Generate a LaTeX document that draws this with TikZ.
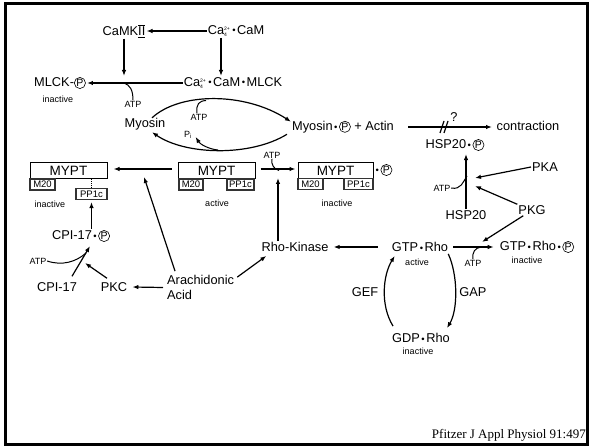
\documentclass[tikz,border=0pt]{standalone}
\usepackage{fontspec}
\setmainfont{Liberation Sans}
\newfontfamily\timesf{Liberation Serif}
\usetikzlibrary{arrows.meta,calc}
\newcommand\cpP{\tikz[baseline=(cpn.base)]\node[draw,circle,inner sep=0.4pt,line width=0.6pt,font=\fontsize{10.5}{10.5}\selectfont](cpn){P};}
\newcommand\bd{\hspace{1.5pt}\raisebox{0.4pt}{\fontsize{9.5}{9.5}\selectfont •}\hspace{1.5pt}}
\newcommand\caf{Ca\raisebox{-2.5pt}{\fontsize{5}{5.5}\selectfont\shortstack[l]{2+\\4}}\hspace{1pt}}
\tikzset{
 lbl/.style={font=\fontsize{12.8}{15}\selectfont, inner sep=1pt},
 sm/.style={font=\fontsize{9}{10}\selectfont, inner sep=0.5pt},
 arr/.style={line width=1.2pt, -{Latex[length=6pt,width=4.5pt]}},
 ln/.style={line width=1.2pt},
 hook/.style={line width=1pt},
 mbox/.style={draw, line width=1pt, minimum width=77pt, minimum height=16pt, inner sep=0pt, font=\fontsize{13.5}{14}\selectfont},
 sbox/.style={draw=black!80, line width=1.1pt, minimum height=11pt, inner sep=0pt, font=\fontsize{9.5}{10}\selectfont}
}
\begin{document}
\begin{tikzpicture}[x=1pt,y=-1pt]
\useasboundingbox (0,0) rectangle (589,446);
\draw[line width=3pt] (5,3.5) rectangle (587.5,444.5);
% nodes
\node[lbl] (camk) at (124,31) {CaMK$\overline{\underline{\mbox{II}}}$};
\node[lbl] (cacam) at (236,31) {\caf\bd CaM};
\node[lbl] (mlckp) at (60,83) {MLCK-\cpP};
\node[sm] (inact1) at (58,99) {inactive};
\node[lbl] (ccm) at (233,83) {\caf\bd CaM\bd MLCK};
\node[sm] (atp1) at (133,104) {ATP};
\node[lbl] (myosin) at (145,124) {Myosin};
\node[lbl] (myop) at (343,127) {Myosin\bd\cpP\ + Actin};
\node[sm] (atp2) at (199,117) {ATP};
\node[sm] (pi) at (188,135) {P\textsubscript{i}};
\node[lbl] (contr) at (528,126) {contraction};
\node[lbl] (q) at (454,117) {?};
\node[lbl] (hsp20p) at (455,145) {HSP20\bd\cpP};
% MYPT boxes
\node[mbox] (m1) at (68.5,171) {MYPT};
\node[sbox, minimum width=25pt] (m1a) at (42.5,184.5) {M20};
\node[sbox, minimum width=31pt] (m1b) at (91.5,194) {PP1c};
\node[sm] (in2) at (50,204) {inactive};
\node[mbox] (m2) at (216.5,171) {MYPT};
\node[sbox, minimum width=24pt] (m2a) at (191,184.5) {M20};
\node[sbox, minimum width=27pt] (m2b) at (240.5,184.5) {PP1c};
\node[sm] (act2) at (217,203) {active};
\node[mbox, minimum width=75pt] (m3) at (335.5,170.5) {MYPT};
\node[sbox, minimum width=25pt] (m3a) at (310.5,184) {M20};
\node[sbox, minimum width=29pt] (m3b) at (358.5,184) {PP1c};
\node[lbl, anchor=west, inner sep=0pt] (m3p) at (374,170) {\bd\cpP};
\node[sm] (in3) at (337,203) {inactive};
\node[sm] (atp3) at (272,155) {ATP};
\node[lbl] (rhok) at (295,247) {Rho-Kinase};
\node[lbl, align=left, anchor=west] (arach) at (166,287.5) {Arachidonic\\Acid};
\node[lbl] (pkc) at (114,287) {PKC};
\node[lbl] (cpi) at (57,287) {CPI-17};
\node[lbl] (cpip) at (81,236) {CPI-17\bd\cpP};
\node[sm] (atp4) at (38,261) {ATP};
\node[lbl] (hsp20) at (466,215) {HSP20};
\node[sm] (atp5) at (442,188) {ATP};
\node[lbl] (pka) at (545,167) {PKA};
\node[lbl] (pkg) at (532,210) {PKG};
\node[lbl] (gtp) at (420,247) {GTP\bd Rho};
\node[sm] (act5) at (417,262) {active};
\node[lbl] (gtpp) at (537,247) {GTP\bd Rho\bd\cpP};
\node[sm] (in5) at (527,260) {inactive};
\node[sm] (atp6) at (473,263) {ATP};
\node[lbl] (gef) at (365,292) {GEF};
\node[lbl] (gap) at (473,292) {GAP};
\node[lbl] (gdp) at (421,338) {GDP\bd Rho};
\node[sm] (in6) at (418,351) {inactive};
\node[font=\timesf\fontsize{13}{14}\selectfont, anchor=base east, inner sep=0pt] (cite) at (586,438) {Pfitzer J Appl Physiol 91:497};
% coordinates
\coordinate (k1) at (124,76);
\coordinate (k2) at (221,76);
\coordinate (h1) at (124,83);
\coordinate (top2) at (206,100.5);
\coordinate (bot2) at (218,150);
\coordinate (c1) at (408,127);
\coordinate (c2) at (492,127);
\coordinate (h3) at (279,170.5);
\coordinate (r1) at (278,178);
\coordinate (ar1) at (144,177);
\coordinate (cr) at (85,263);
\coordinate (cj) at (86,253);
\coordinate (j1) at (475,178);
\coordinate (j2) at (475,186);
\coordinate (j3) at (482,242);
\coordinate (h5) at (467,176);
\coordinate (h6) at (481,247);
% connectors
\draw[arr] (cacam.west) -- (camk.east);
\draw[arr] (camk.south) -- (k1);
\draw[arr] (cacam.south -| k2) -- (k2);
\draw[arr] (ccm.west) -- (mlckp.east);
\draw[hook] (atp1.north) .. controls (133,90) and (130,85) .. (h1);
\draw[arr] ($(myosin.north)+(7,1)$) .. controls (180,92) and (245,92) .. ($(myop.north west)+(0,2)$);
\draw[hook] ($(atp2.north)+(-2,0)$) .. controls (196,104) and (199,101) .. (top2);
\draw[arr] ($(myop.south west)+(-4,0)$) .. controls (250,157) and (185,155) .. ($(myosin.south)+(7,1)$);
\draw[arr, line width=1pt] (bot2) .. controls (208,149) and (200,144) .. ($(pi.east)+(3,2)$);
\draw[arr] (c1) -- (c2);
\draw[ln] (440,133) -- (444,121);
\draw[ln] (444,133) -- (448,121);
\draw[densely dotted, line width=0.8pt] (m1.south -| m1b) -- (m1b.north);
\draw[arr] ($(m2.west)+(-6,-2)$) -- ($(m1.east)+(6,-2)$);
\draw[arr] ($(m2.east)+(5,-2)$) -- ($(m3.west)+(-2,-1.5)$);
\draw[hook] (atp3.south) .. controls (271,165) and (274,169) .. (h3);
\draw[arr] (rhok.north -| r1) -- (r1);
\draw[arr] ($(arach.north west)+(9,-3)$) -- (ar1);
\draw[arr] ($(arach.north east)+(2,3)$) -- ($(rhok.south west)+(6,3)$);
\draw[arr] ($(arach.west)+(-3,0)$) -- ($(pkc.east)+(4,0)$);
\draw[arr] ($(pkc.north)+(-7,-3)$) -- (cr);
\draw[arr] ($(cpi.north)+(15,-5)$) -- ($(cpip.south)+(9,3)$);
\draw[hook] (atp4.east) .. controls (62,266) and (76,262) .. (cj);
\draw[arr] (cpip.north -| m1b) -- ($(m1b.south)+(0,2)$);
\draw[arr] (hsp20.north) -- ($(hsp20.north |- hsp20p.south)+(0,2)$);
\draw[arr] (pka.west) -- (j1);
\draw[arr] (pkg.north west) -- (j2);
\draw[hook] (atp5.east) .. controls (461,190) and (463,182) .. (h5);
\draw[arr] ($(pkg.south west)+(6,0)$) -- (j3);
\draw[arr] ($(gtp.west)+(-13,0)$) -- ($(rhok.east)+(4,0)$);
\draw[arr] ($(gtp.east)+(4,0)$) -- ($(gtpp.west)+(-5,0)$);
\draw[hook] (atp6.north) .. controls (472,252) and (475,248) .. (h6);
\draw[arr] ($(gdp.north west)+(2,-6)$) .. controls (380,305) and (383,275) .. ($(gtp.south west)+(4,3)$);
\draw[arr] ($(gtp.south east)+(-1,1)$) .. controls (458,275) and (458,310) .. ($(gdp.north east)+(-4,-4)$);
\end{tikzpicture}
\end{document}
